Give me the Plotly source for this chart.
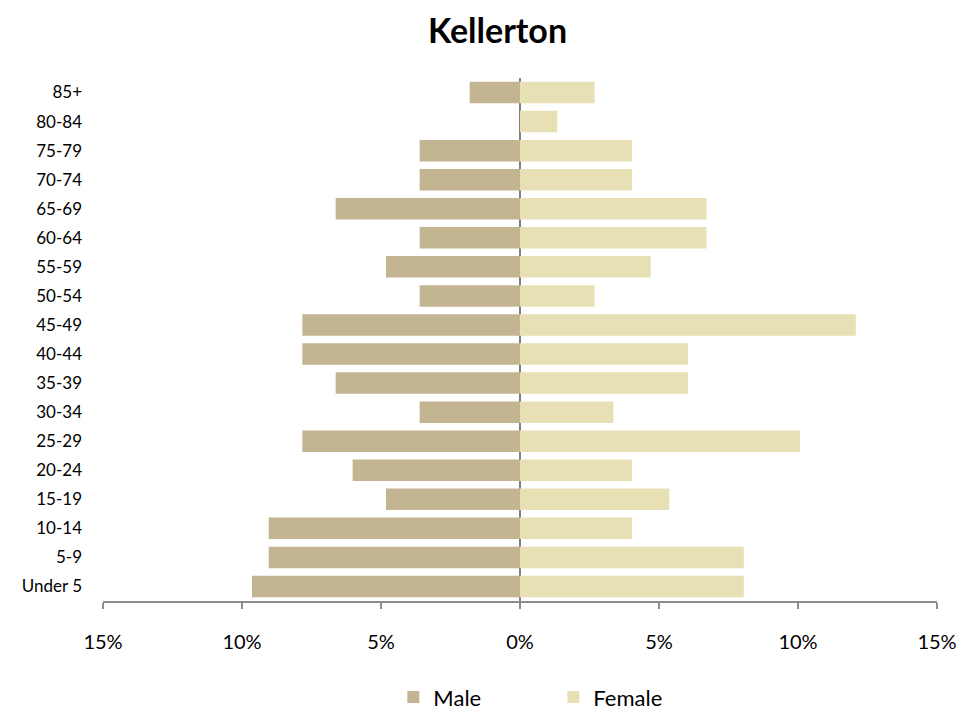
import plotly.graph_objects as go

age_groups = ["Under 5", "5-9", "10-14", "15-19", "20-24", "25-29", "30-34", "35-39",
              "40-44", "45-49", "50-54", "55-59", "60-64", "65-69", "70-74", "75-79",
              "80-84", "85+"]
male_pct = [9.64, 9.04, 9.04, 4.82, 6.02, 7.83, 3.61, 6.63, 7.83, 7.83, 3.61, 4.82,
            3.61, 6.63, 3.61, 3.61, 0.0, 1.81]
female_pct = [8.05, 8.05, 4.03, 5.37, 4.03, 10.07, 3.36, 6.04, 6.04, 12.08, 2.68, 4.70,
              6.71, 6.71, 4.03, 4.03, 1.34, 2.68]
tick_vals = [-15, -10, -5, 0, 5, 10, 15]
tick_text = ["15%", "10%", "5%", "0%", "5%", "10%", "15%"]

font_family = "Lato, 'Open Sans', sans-serif"

fig = go.Figure()
fig.add_trace(go.Bar(
    y=age_groups, x=[-v for v in male_pct], orientation="h", name="Male",
    marker=dict(color="#C4B592", line=dict(width=0)),
))
fig.add_trace(go.Bar(
    y=age_groups, x=female_pct, orientation="h", name="Female",
    marker=dict(color="#E8E0B5", line=dict(width=0)),
))

fig.update_layout(
    width=979, height=713,
    paper_bgcolor="white", plot_bgcolor="white",
    barmode="relative", bargap=0.26,
    margin=dict(l=95, r=50, t=70, b=120, autoexpand=False),
    title=dict(text="<b>Kellerton</b>", x=0.5, xanchor="center", y=0.968, yanchor="middle",
               font=dict(family=font_family, size=34, color="black")),
    font=dict(family=font_family, size=17, color="black"),
    legend=dict(orientation="h", x=0.54, xanchor="center", y=-0.184, yanchor="middle",
                entrywidth=115, font=dict(size=22), itemwidth=30,
                traceorder="normal"),
    xaxis=dict(
        range=[-15, 15], tickvals=tick_vals, ticktext=tick_text,
        showgrid=False, zeroline=True, zerolinecolor="#7F7F7F", zerolinewidth=1.5,
        showline=True, linecolor="#8C8C8C", linewidth=1.5,
        ticks="outside", ticklen=6, tickcolor="#8C8C8C", tickwidth=1.5,
        ticklabelstandoff=16, tickfont=dict(size=20),
    ),
    yaxis=dict(
        showgrid=False, showline=False, ticks="", ticklabelstandoff=20,
        tickfont=dict(size=17), categoryorder="array", categoryarray=age_groups,
    ),
)

fig.write_html("out.html")
